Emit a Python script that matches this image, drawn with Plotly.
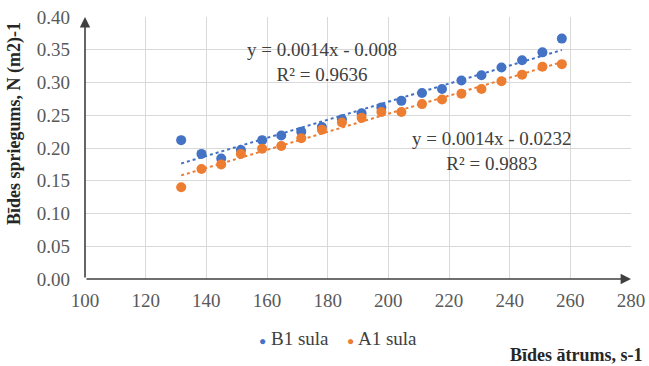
import numpy as np
import plotly.graph_objects as go

x_vals = [131.7, 138.4, 144.9, 151.4, 158.4, 164.7, 171.3, 178.1, 184.7, 191.2,
          197.7, 204.3, 211.1, 217.7, 224.1, 230.7, 237.3, 244.1, 250.8, 257.2]
b1_vals = [0.212, 0.191, 0.184, 0.197, 0.212, 0.219, 0.225, 0.232, 0.244, 0.253,
           0.262, 0.272, 0.284, 0.290, 0.303, 0.311, 0.323, 0.334, 0.346, 0.367]
a1_vals = [0.140, 0.168, 0.175, 0.191, 0.199, 0.203, 0.215, 0.228, 0.239, 0.246,
           0.255, 0.255, 0.267, 0.274, 0.283, 0.290, 0.302, 0.312, 0.324, 0.328]
x_ticks = [100, 120, 140, 160, 180, 200, 220, 240, 260, 280]
y_ticks = [0.00, 0.05, 0.10, 0.15, 0.20, 0.25, 0.30, 0.35, 0.40]
series_names = ["B1 sula", "A1 sula"]

BLUE = "#4472C4"
ORANGE = "#ED7D31"
SERIF = "Liberation Serif"
AX = "#404040"

L, R, T, B = 85, 18, 17, 87
W, H = 649, 366
PW, PH = W - L - R, H - T - B


def px(xp):
    return (xp - L) / PW


def py(yp):
    return (H - B - yp) / PH


fig = go.Figure()

xa = np.array(x_vals)
xt = np.array([xa.min(), xa.max()])
for vals, color in [(b1_vals, BLUE), (a1_vals, ORANGE)]:
    k, b = np.polyfit(xa, np.array(vals), 1)
    fig.add_trace(go.Scatter(x=xt, y=k * xt + b, mode="lines",
                             line=dict(color=color, width=2, dash="dot"),
                             showlegend=False, hoverinfo="skip"))

fig.add_trace(go.Scatter(x=x_vals, y=b1_vals, mode="markers", name=series_names[0],
                         marker=dict(color=BLUE, size=10), showlegend=False))
fig.add_trace(go.Scatter(x=x_vals, y=a1_vals, mode="markers", name=series_names[1],
                         marker=dict(color=ORANGE, size=10), showlegend=False))

fig.update_xaxes(range=[100, 280], tickvals=x_ticks, ticktext=[str(t) for t in x_ticks],
                 showgrid=True, gridcolor="#d9d9d9", gridwidth=1, zeroline=False,
                 showline=False, ticks="", automargin=False,
                 tickfont=dict(family=SERIF, size=19, color="#595959"),
                 ticklabelstandoff=8)
fig.update_yaxes(range=[0, 0.40], tickvals=y_ticks, ticktext=[f"{t:.2f}" for t in y_ticks],
                 showgrid=True, gridcolor="#d9d9d9", gridwidth=1, zeroline=False,
                 showline=False, ticks="", automargin=False,
                 tickfont=dict(family=SERIF, size=19, color="#595959"),
                 ticklabelstandoff=14)

# axis arrows
fig.add_annotation(x=100, y=0.40, ax=100, ay=0, xref="x", yref="y", axref="x", ayref="y",
                   showarrow=True, arrowhead=2, arrowsize=1.3, arrowwidth=1.6, arrowcolor=AX, text="")
fig.add_annotation(x=280, y=0, ax=100, ay=0, xref="x", yref="y", axref="x", ayref="y",
                   showarrow=True, arrowhead=2, arrowsize=1.3, arrowwidth=1.6, arrowcolor=AX, text="")

# equations
fig.add_annotation(x=px(322), y=py(62.5), xref="paper", yref="paper",
                   xanchor="center", yanchor="middle",
                   text="y = 0.0014x - 0.008<br>R² = 0.9636", showarrow=False,
                   font=dict(family=SERIF, size=19, color="#404040"), align="center")
fig.add_annotation(x=px(492), y=py(151.5), xref="paper", yref="paper",
                   xanchor="center", yanchor="middle",
                   text="y = 0.0014x - 0.0232<br>R² = 0.9883", showarrow=False,
                   font=dict(family=SERIF, size=19, color="#404040"), align="center")

# axis titles
fig.add_annotation(x=px(15), y=py(124), xref="paper", yref="paper",
                   xanchor="center", yanchor="middle",
                   text="<b>Bīdes spriegums, N (m2)-1</b>", textangle=-90, showarrow=False,
                   font=dict(family=SERIF, size=18, color="#262626"))
fig.add_annotation(x=px(576), y=py(355), xref="paper", yref="paper",
                   xanchor="center", yanchor="middle",
                   text="<b>Bīdes ātrums, s-1</b>", showarrow=False,
                   font=dict(family=SERIF, size=18, color="#262626"))

# legend
for name, color, xl in [(series_names[0], BLUE, 257), (series_names[1], ORANGE, 345)]:
    fig.add_annotation(x=px(xl), y=py(338), xref="paper", yref="paper",
                       xanchor="left", yanchor="middle",
                       text=f"<span style='color:{color};font-size:12px'>●</span> {name}",
                       showarrow=False,
                       font=dict(family=SERIF, size=19, color="#404040"))

fig.update_layout(
    width=W, height=H,
    margin=dict(l=L, r=R, t=T, b=B),
    paper_bgcolor="white", plot_bgcolor="white",
    showlegend=False,
)

fig.write_html("out.html")
